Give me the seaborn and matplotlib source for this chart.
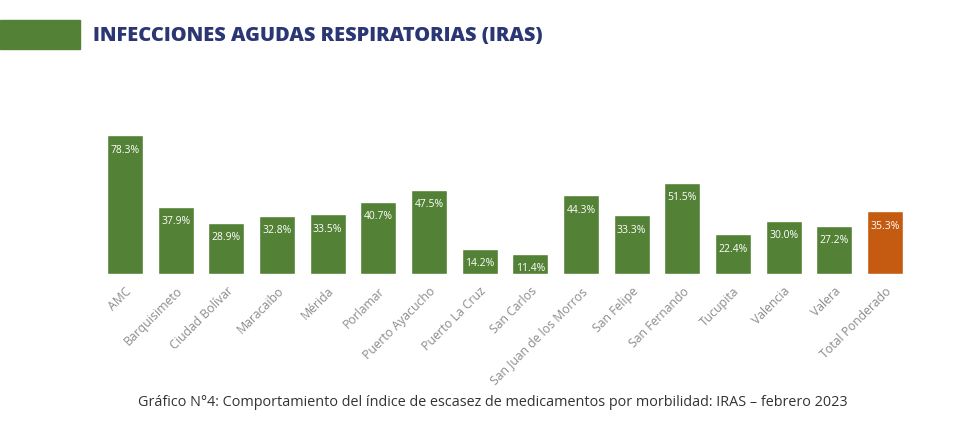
import matplotlib.pyplot as plt
import seaborn as sns
import pandas as pd
from matplotlib.patches import Rectangle

ciudades = ['AMC', 'Barquisimeto', 'Ciudad Bolívar', 'Maracaibo', 'Mérida', 'Porlamar',
            'Puerto Ayacucho', 'Puerto La Cruz', 'San Carlos', 'San Juan de los Morros',
            'San Felipe', 'San Fernando', 'Tucupita', 'Valencia', 'Valera', 'Total Ponderado']
escasez = [78.3, 37.9, 28.9, 32.8, 33.5, 40.7, 47.5, 14.2, 11.4, 44.3, 33.3, 51.5, 22.4, 30.0, 27.2, 35.3]

verde = '#538135'
naranja = '#C55A11'
colores = [verde] * (len(ciudades) - 1) + [naranja]

df = pd.DataFrame({'ciudad': ciudades, 'valor': escasez})

sns.set_style('white')
plt.rcParams['font.family'] = ['Open Sans', 'DejaVu Sans']

fig = plt.figure(figsize=(9.61, 4.39), dpi=100)
ax = fig.add_axes([0.1037, 0.3736, 0.8435, 0.4046])

sns.barplot(data=df, x='ciudad', y='valor', hue='ciudad', palette=colores,
            legend=False, width=0.71, ax=ax, saturation=1)

for i, v in enumerate(escasez):
    ax.text(i, v - 8, f'{v:.1f}%', ha='center', va='center', color='white', fontsize=7.5)

ax.set_xlim(-0.5, len(ciudades) - 0.5)
ax.set_ylim(0, 100)
ax.set_yticks([])
ax.set_xlabel('')
ax.set_ylabel('')
sns.despine(ax=ax, left=True, bottom=True)
ax.tick_params(axis='x', length=0, pad=7)
ax.set_xticks(range(len(ciudades)))
ax.set_xticklabels(ciudades, rotation=45, ha='right', rotation_mode='anchor',
                   color='#8c8c8c', fontsize=8.8)

# franja verde del encabezado
fig.patches.append(Rectangle((0, 1 - 50 / 439), 80 / 961, 29 / 439,
                             transform=fig.transFigure, color=verde))
fig.text(93 / 961, 1 - 36 / 439, 'INFECCIONES AGUDAS RESPIRATORIAS (IRAS)',
         ha='left', va='center', fontsize=14.4, fontweight='heavy', color='#2B3674')

fig.text(493 / 961, 1 - 403 / 439,
         'Gráfico N°4: Comportamiento del índice de escasez de medicamentos por morbilidad: IRAS – febrero 2023',
         ha='center', va='center', fontsize=10.4, color='#333333')

fig.savefig('out.png', dpi=100)
